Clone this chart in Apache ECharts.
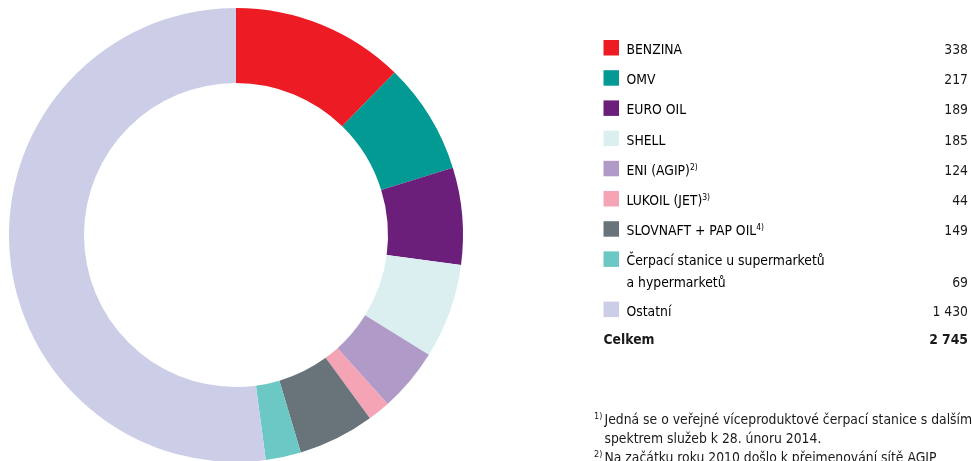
<!DOCTYPE html>
<html>
<head>
<meta charset="utf-8">
<script src="https://cdn.jsdelivr.net/npm/echarts@6/dist/echarts.min.js"></script>
<style>
  html, body { margin: 0; padding: 0; background: #fff; }
  #chart { width: 972px; height: 461px; }
</style>
</head>
<body>
<div id="chart"></div>
<script>
// data
var names = ['BENZINA', 'OMV', 'EURO OIL', 'SHELL', 'ENI (AGIP)', 'LUKOIL (JET)',
  'SLOVNAFT + PAP OIL', 'Čerpací stanice u supermarketů\na hypermarketů', 'Ostatní'];
var notes = ['', '', '', '', '2)', '3)', '4)', '', ''];
var values = [338, 217, 189, 185, 124, 44, 149, 69, 1430];
var colors = ['#ed1c24', '#039a94', '#6b1f7a', '#dbeff0', '#b09bc8', '#f4a4b5',
  '#69747a', '#6cc8c5', '#cccde7'];
var totalLabel = 'Celkem';
var footNotes = ['1)', '', '2)'];
var footLines = ['Jedná se o veřejné víceproduktové čerpací stanice s dalším',
  'spektrem služeb k 28. únoru 2014.',
  'Na začátku roku 2010 došlo k přejmenování sítě AGIP'];

var FONT = '"Liberation Sans Narrow", "DejaVu Sans Condensed", "Roboto", sans-serif';
var FS = 13.8;
var INK = '#1a1a1a';

// 1430 -> "1 430"
function fmt(v) {
  return String(v).replace(/\B(?=(\d{3})+(?!\d))/g, ' ');
}

var chart = echarts.init(document.getElementById('chart'), null, { renderer: 'canvas' });

var rich = {
  n: { fontFamily: FONT, fontSize: FS, color: INK, lineHeight: 17 },
  s: { fontFamily: FONT, fontSize: 8.5, color: INK, lineHeight: 10, verticalAlign: 'top' }
};

var graphics = [];
var y = 47.5; // centre of the first swatch
var keyX = 603.5, textX = 626.5, valX = 968;
for (var i = 0; i < names.length; i++) {
  var lines = names[i].split('\n');
  graphics.push({
    type: 'rect', silent: true,
    shape: { x: keyX, y: y - 7.5, width: 15.5, height: 15.5 },
    style: { fill: colors[i] }
  });
  for (var k = 0; k < lines.length; k++) {
    var t = '{n|' + lines[k] + '}';
    if (k === lines.length - 1 && notes[i]) t += '{s|' + notes[i] + '}';
    graphics.push({
      type: 'text', silent: true,
      style: { text: t, rich: rich, x: textX, y: y + 3 + k * 22, align: 'left', verticalAlign: 'middle' }
    });
  }
  graphics.push({
    type: 'text', silent: true,
    style: {
      text: fmt(values[i]), x: valX, y: y + 3 + (lines.length - 1) * 22,
      align: 'right', verticalAlign: 'middle', font: FS + 'px ' + FONT, fill: INK
    }
  });
  y += 30.2 + (lines.length - 1) * 20;
}

var total = values.reduce(function (a, b) { return a + b; }, 0);
graphics.push({
  type: 'text', silent: true,
  style: { text: totalLabel, x: keyX, y: y + 1, align: 'left', verticalAlign: 'middle',
    font: 'bold ' + FS + 'px ' + FONT, fill: INK }
});
graphics.push({
  type: 'text', silent: true,
  style: { text: fmt(total), x: valX, y: y + 1, align: 'right', verticalAlign: 'middle',
    font: 'bold ' + FS + 'px ' + FONT, fill: INK }
});

// footnotes
for (var j = 0; j < footLines.length; j++) {
  var fy = 420.5 + j * 19;
  if (footNotes[j]) {
    graphics.push({
      type: 'text', silent: true,
      style: { text: footNotes[j], x: 594, y: fy - 4, align: 'left', verticalAlign: 'middle',
        font: '9px ' + FONT, fill: INK }
    });
  }
  graphics.push({
    type: 'text', silent: true,
    style: { text: footLines[j], x: 604.5, y: fy, align: 'left', verticalAlign: 'middle',
      font: FS + 'px ' + FONT, fill: INK }
  });
}

chart.setOption({
  animation: false,
  backgroundColor: '#fff',
  color: colors,
  series: [{
    type: 'pie',
    silent: true,
    center: [236, 235],
    radius: [152, 227],
    startAngle: 90,
    clockwise: true,
    label: { show: false },
    labelLine: { show: false },
    itemStyle: { borderWidth: 0 },
    data: names.map(function (n, i) { return { name: n, value: values[i] }; })
  }],
  graphic: graphics
});
</script>
</body>
</html>
